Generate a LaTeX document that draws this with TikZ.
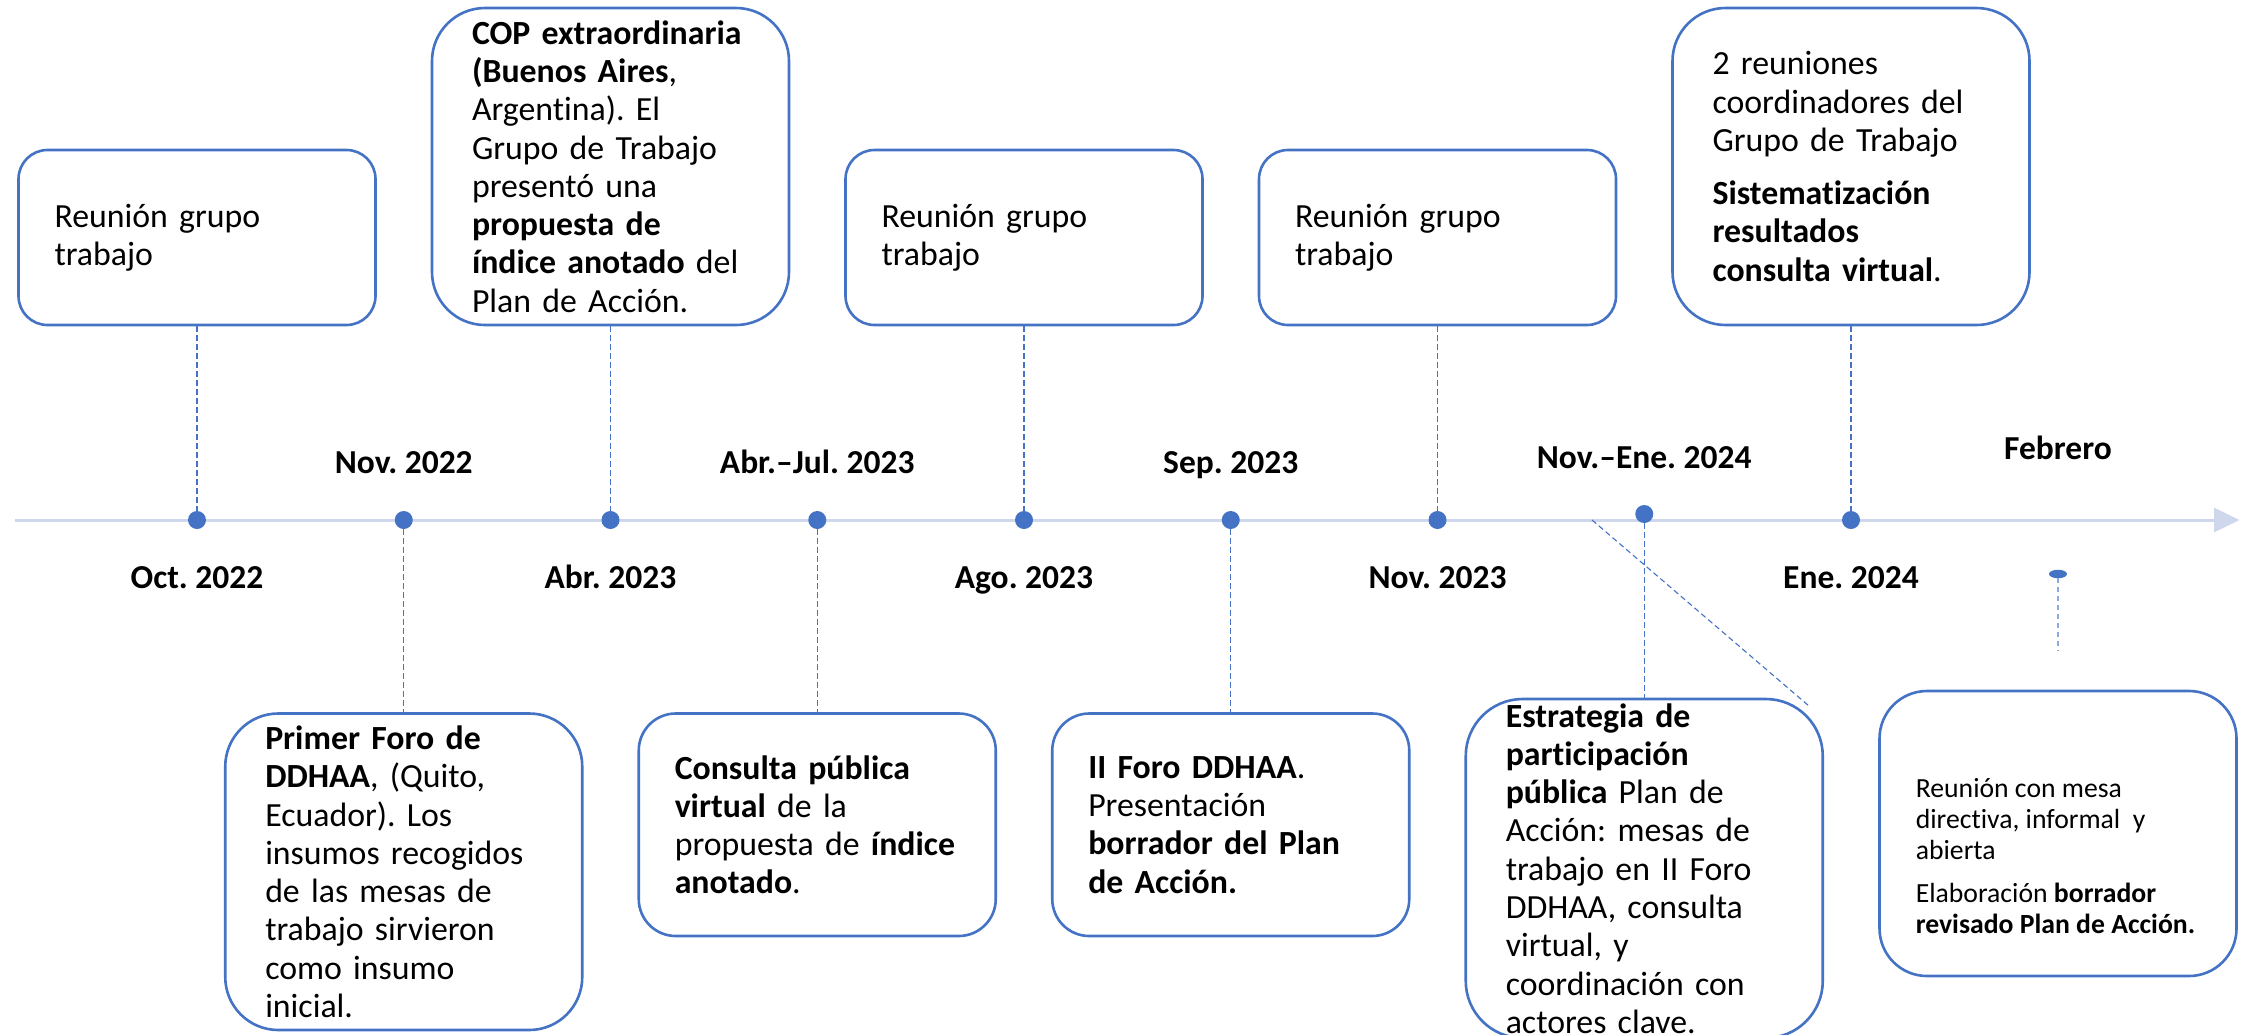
\documentclass[tikz,border=0pt]{standalone}
\usepackage{fontspec}
\setmainfont{Carlito}[Ligatures=NoCommon]
\frenchspacing
\usetikzlibrary{arrows.meta,shapes.geometric}
\definecolor{evblue}{RGB}{68,114,196}
\definecolor{evpale}{RGB}{140,170,222}
\definecolor{axisblue}{RGB}{207,215,237}
\newcommand\evfont{\fontsize{33.8}{38.3}\selectfont}
\newcommand\evsmall{\fontsize{27.7}{31}\selectfont}
\newcommand\evlabel{\fontsize{33.5}{38}\selectfont\bfseries}
\tikzset{
 evbox/.style={draw=evblue, line width=2.6pt, fill=white, rounded corners=#1,
   text width=285pt, inner xsep=36pt, inner ysep=0pt, align=left,
   font=\evfont, minimum width=357pt},
 evwide/.style={text width=277pt, inner xsep=40pt},
 evdot/.style={circle, fill=evblue, inner sep=0pt, minimum size=18pt},
 evdash/.style={draw=evblue, line width=1.1pt, dash pattern=on 5.5pt off 3.5pt},
 evlab/.style={font=\evlabel, anchor=base, inner sep=0pt},
}
\begin{document}
\begin{tikzpicture}[x=1pt,y=-1pt]
\fill[white] (0,0) rectangle (2246,1034);
\useasboundingbox (0,0) rectangle (2246,1034);

% axis
\coordinate (axstart) at (14.5,520);
\coordinate (axend) at (2239.5,520);
\draw[axisblue, line width=3pt, -{Triangle[length=25.5pt,width=24pt]}] (axstart) -- (axend);

% dots
\node[evdot] (d1) at (197,520) {};
\node[evdot] (d2) at (403.75,520) {};
\node[evdot] (d3) at (610.5,520) {};
\node[evdot] (d4) at (817.25,520) {};
\node[evdot] (d5) at (1024,520) {};
\node[evdot] (d6) at (1230.75,520) {};
\node[evdot] (d7) at (1437.5,520) {};
\node[evdot] (d8) at (1644.25,514) {};
\node[evdot] (d9) at (1851,520) {};
\node[ellipse, fill=evblue, inner sep=0pt, minimum width=18pt, minimum height=8.5pt] (febdot) at (2058,574) {};

% top boxes
\node[evbox=29pt, minimum height=175pt] (bA) at (197,237.5)
 {Reunión grupo\\trabajo};
\node[evbox=53pt, evwide, minimum height=317pt] (bCOP) at (610.5,166.5)
 {\textbf{COP extraordinaria}\\\textbf{(Buenos Aires}, \\Argentina). El\\Grupo de Trabajo\\presentó una\\\textbf{propuesta de}\\\textbf{índice anotado} del\\Plan de Acción.};
\node[evbox=29pt, minimum height=175pt] (bAgo) at (1024,237.5)
 {Reunión grupo\\trabajo};
\node[evbox=29pt, minimum height=175pt] (bNov) at (1437.5,237.5)
 {Reunión grupo\\trabajo};
\node[evbox=53pt, evwide, minimum height=317pt] (bEne) at (1851,166.5)
 {2 reuniones\\coordinadores del\\Grupo de Trabajo\\[15pt]\textbf{Sistematización}\\\textbf{resultados}\\\textbf{consulta virtual}.};

% bottom boxes
\node[evbox=53pt, evwide, minimum height=316.5pt] (bPrimer) at (403.75,871.75)
 {\textbf{Primer Foro de}\\\textbf{DDHAA}, (Quito,\\Ecuador). Los\\insumos recogidos\\de las mesas de\\trabajo sirvieron\\como insumo\\inicial.};
\node[evbox=37pt, minimum height=222.5pt] (bCons) at (817.25,824.75)
 {\textbf{Consulta pública}\\\textbf{virtual} de la\\propuesta de \textbf{índice}\\\textbf{anotado}.};
\node[evbox=37pt, minimum height=222.5pt] (bForo) at (1230.75,824.75)
 {\textbf{II Foro DDHAA}.\\Presentación\\\textbf{borrador del Plan}\\\textbf{de Acción.}};
\node[evbox=57pt, evwide, minimum height=339pt] (bEstr) at (1644.25,868.5)
 {\textbf{Estrategia de}\\\textbf{participación}\\\textbf{pública} Plan de\\Acción: mesas de\\trabajo en II Foro\\DDHAA, consulta\\virtual, y\\coordinación con\\actores clave.};
\node[evbox=47.5pt, minimum height=285pt] (bFeb) at (2058,833.5) {};
\node[anchor=base west, inner sep=0pt, align=left, font=\evsmall] (tFeb) at (1915.6,933)
 {Reunión con mesa\\directiva, informal\ \ y\\abierta\\[12pt]Elaboración \textbf{borrador}\\\textbf{revisado Plan de Acción.}};

% connectors
\draw[evdash] (bA.south) -- (d1.north);
\draw[evdash] (d2.south) -- (bPrimer.north);
\draw[evdash] (bCOP.south) -- (d3.north);
\draw[evdash] (d4.south) -- (bCons.north);
\draw[evdash] (bAgo.south) -- (d5.north);
\draw[evdash] (d6.south) -- (bForo.north);
\draw[evdash] (bNov.south) -- (d7.north);
\draw[evdash] (d8.south) -- (bEstr.north);
\draw[evdash] (bEne.south) -- (d9.north);
\coordinate (diagA) at (1592,520);
\coordinate (diagB) at (1809,706);
\draw[evdash] (diagA) -- (diagB);
\coordinate (febend) at (2058,651);
\draw[evdash, draw=evpale, line width=1.7pt, dash pattern=on 5pt off 4pt] (febdot.south) -- (febend);

% labels
\node[evlab] (lOct) at (197,588) {Oct. 2022};
\node[evlab] (lNov22) at (403.75,473) {Nov. 2022};
\node[evlab] (lAbr) at (610.5,588) {Abr. 2023};
\node[evlab] (lAbrJul) at (817.25,473) {Abr.–Jul. 2023};
\node[evlab] (lAgo) at (1024,588) {Ago. 2023};
\node[evlab] (lSep) at (1230.75,473) {Sep. 2023};
\node[evlab] (lNov23) at (1437.5,588) {Nov. 2023};
\node[evlab] (lNovEne) at (1644.25,468) {Nov.–Ene. 2024};
\node[evlab] (lEne) at (1851,588) {Ene. 2024};
\node[evlab] (lFeb) at (2058,459) {Febrero};
\end{tikzpicture}
\end{document}
